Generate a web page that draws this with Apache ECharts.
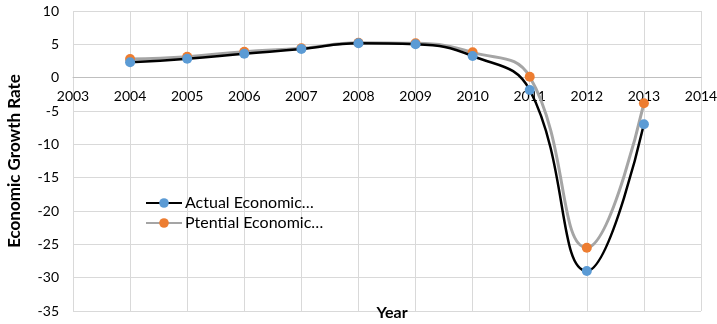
<!DOCTYPE html>
<html>
<head>
<meta charset="utf-8">
<script src="https://cdn.jsdelivr.net/npm/echarts@6/dist/echarts.min.js"></script>
<style>
  html, body { margin: 0; padding: 0; background: #fff; }
  #chart { width: 717px; height: 324px; }
</style>
</head>
<body>
<div id="chart"></div>
<script>
// Annual growth rates, 2004–2013
const years = [2004, 2005, 2006, 2007, 2008, 2009, 2010, 2011, 2012, 2013];
const actualGrowth = [2.3, 2.85, 3.6, 4.3, 5.15, 5.0, 3.25, -1.85, -29.0, -7.0];
const potentialGrowth = [2.8, 3.15, 3.9, 4.4, 5.25, 5.15, 3.8, 0.15, -25.5, -3.85];
const seriesNames = ['Actual Economic…', 'Ptential Economic…'];

const FONT = 'Lato, "Open Sans", sans-serif';
const GRID = { left: 73, right: 16, top: 11, bottom: 13 };
const Y_MIN = -35, Y_MAX = 10;
const chartHeight = 324;

// The year axis crosses the value axis at zero: lift it from the bottom edge
// of the plot by the pixel distance between -35 and 0.
const plotH = chartHeight - GRID.top - GRID.bottom;
const zeroOffset = -plotH * (0 - Y_MIN) / (Y_MAX - Y_MIN);

const chart = echarts.init(document.getElementById('chart'), null, { renderer: 'canvas' });
const toPairs = (vals) => years.map((y, i) => [y, vals[i]]);

chart.setOption({
  animation: false,
  backgroundColor: '#ffffff',
  textStyle: { fontFamily: FONT },
  grid: Object.assign({ containLabel: false, outerBoundsMode: 'none' }, GRID),
  title: {
    text: 'Year',
    left: 387,
    top: 300,
    textAlign: 'center',
    textStyle: { fontFamily: FONT, fontSize: 16, fontWeight: 'bold', color: '#000' }
  },
  legend: {
    orient: 'vertical',
    left: 140,
    top: 190,
    itemWidth: 36,
    itemHeight: 12,
    itemGap: 4,
    textStyle: { fontFamily: FONT, fontSize: 16, color: '#000', padding: [0, 0, 0, -2] },
    data: seriesNames
  },
  xAxis: {
    type: 'value',
    min: 2003,
    max: 2014,
    interval: 1,
    position: 'bottom',
    offset: zeroOffset,
    axisLine: { onZero: false, lineStyle: { color: '#bfbfbf', width: 1 } },
    axisTick: { show: false },
    axisLabel: { color: '#000', fontSize: 14, margin: 12, fontFamily: FONT, formatter: (v) => String(v) },
    splitLine: { show: true, lineStyle: { color: '#d9d9d9', width: 1 } }
  },
  yAxis: {
    type: 'value',
    min: Y_MIN,
    max: Y_MAX,
    interval: 5,
    name: 'Economic Growth Rate',
    nameLocation: 'middle',
    nameGap: 50,
    nameTextStyle: { fontFamily: FONT, fontSize: 17, fontWeight: 'bold', color: '#000' },
    axisLine: { show: false, onZero: false },
    axisTick: { show: false },
    axisLabel: { color: '#000', fontSize: 14, margin: 14, fontFamily: FONT },
    splitLine: { show: true, lineStyle: { color: '#d9d9d9', width: 1 } }
  },
  series: [
    {
      name: seriesNames[1],
      type: 'line',
      smooth: 0.45,
      data: toPairs(potentialGrowth),
      symbol: 'circle',
      symbolSize: 10,
      lineStyle: { color: '#a5a5a5', width: 3 },
      itemStyle: { color: '#ed7d31' },
      z: 2
    },
    {
      name: seriesNames[0],
      type: 'line',
      smooth: 0.45,
      data: toPairs(actualGrowth),
      symbol: 'circle',
      symbolSize: 10,
      lineStyle: { color: '#000000', width: 2.5 },
      itemStyle: { color: '#5b9bd5' },
      z: 3
    }
  ]
});
</script>
</body>
</html>
